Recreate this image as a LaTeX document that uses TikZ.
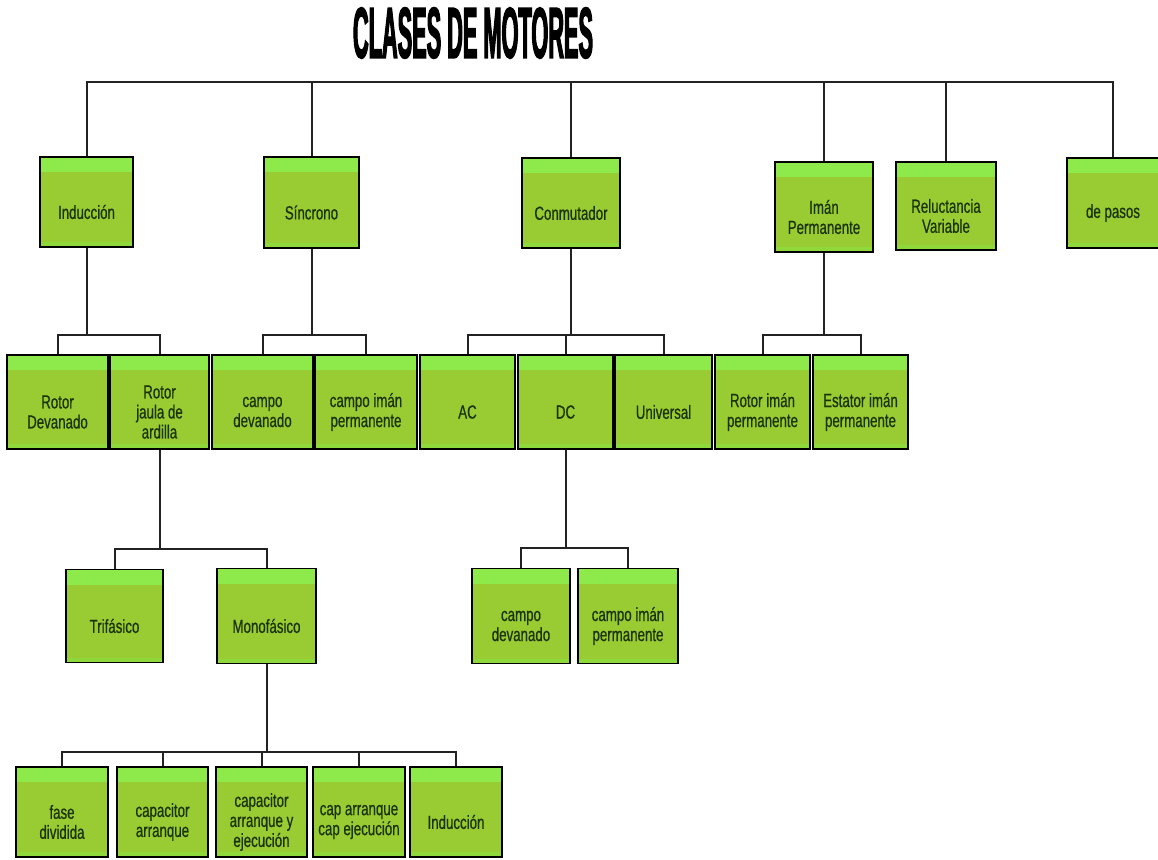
\documentclass[tikz,border=0pt]{standalone}
\usepackage{fontspec}
\setmainfont{Liberation Sans}
\newfontfamily\narrowfont[FakeStretch=0.7,FakeBold=0.6]{Liberation Sans}
\newfontfamily\titlefont[FakeStretch=0.55,FakeBold=2.5]{Liberation Sans Bold}
\definecolor{boxgreen}{HTML}{99CC33}
\definecolor{topgreen}{HTML}{8EEA4A}
\definecolor{botgreen}{HTML}{8FD83C}
\definecolor{txtgreen}{HTML}{1A330B}
\definecolor{linegray}{HTML}{222222}
\tikzset{
  mbox/.style={draw=black, line width=1.6pt, fill=boxgreen, inner sep=0pt, minimum height=91pt,
    path picture={
      \fill[topgreen] (path picture bounding box.north west) rectangle ([yshift=-15pt]path picture bounding box.north east);
      \fill[botgreen] (path picture bounding box.south west) rectangle ([yshift=5pt]path picture bounding box.south east);
    }},
  mtext/.style={align=center, text=txtgreen, inner sep=0pt, font=\narrowfont\fontsize{19}{20}\selectfont},
  conn/.style={draw=linegray, line width=2pt},
}
\newcommand{\motor}[6]{%
  \node[mbox, minimum width=#5pt, minimum height=#6pt] (#1) at (#2,#3) {};
  \node[mtext] (#1t) at ([yshift=-10pt]#1.center) {#4};
}
\begin{document}
\begin{tikzpicture}[x=1pt,y=-1pt]
\useasboundingbox[fill=white] (0,0) rectangle (1158,859);

\node (title) at (473,33) {\resizebox{240pt}{50pt}{\titlefont CLASES DE MOTORES}};

% level 1
\motor{ind}{86.5}{202}{Inducción}{93}{90}
\motor{sin}{311.5}{202.5}{Síncrono}{95}{91}
\motor{con}{571}{203}{Conmutador}{98}{90}
\motor{iman}{824}{207}{Imán\\Permanente}{98}{90}
\motor{rel}{946}{206}{Reluctancia\\Variable}{100}{88}
\motor{pasos}{1113}{203}{de pasos}{92}{90}

% level 2
\motor{rd}{57.5}{402}{Rotor\\Devanado}{101}{94}
\motor{rj}{159.5}{402}{Rotor\\jaula de\\ardilla}{99}{94}
\motor{cd}{262.5}{402}{campo\\devanado}{101}{94}
\motor{ci}{366}{402}{campo imán\\permanente}{102}{94}
\motor{ac}{467.5}{402}{AC}{95}{94}
\motor{dc}{565.5}{402}{DC}{95}{94}
\motor{uni}{663.5}{402}{Universal}{97}{94}
\motor{ri}{762.5}{402}{Rotor imán\\permanente}{95}{94}
\motor{ei}{860.5}{402}{Estator imán\\permanente}{95}{94}

% level 3
\motor{tri}{114.5}{616}{Trifásico}{97}{93}
\motor{mono}{266.5}{616}{Monofásico}{99}{95}
\motor{cdd}{521}{616}{campo\\devanado}{98}{95}
\motor{cid}{628}{616}{campo imán\\permanente}{100}{95}

% level 4
\motor{fd}{62}{812}{fase\\dividida}{92}{90}
\motor{ca}{162.5}{812}{capacitor\\arranque}{91}{90}
\motor{cae}{261.5}{812}{capacitor\\arranque y\\ejecución}{91}{90}
\motor{cc}{359}{812}{cap arranque\\cap ejecución}{92}{90}
\motor{indm}{456}{812}{Inducción}{92}{90}

% connectors: top bar
\coordinate (tb) at (500,82);
\draw[conn] (ind.north) |- (tb) -| (pasos.north);
\foreach \n in {sin,con,iman,rel} \draw[conn] (\n.north) -- (\n.north |- tb);

% level 2 brackets
\coordinate (b1) at (ind.south |- 0,335);
\draw[conn] (ind.south) -- (b1);
\draw[conn] (rd.north) |- (b1) -| (rj.north);
\coordinate (b2) at (sin.south |- 0,335);
\draw[conn] (sin.south) -- (b2);
\draw[conn] (cd.north) |- (b2) -| (ci.north);
\coordinate (b3) at (con.south |- 0,335);
\draw[conn] (con.south) -- (b3);
\draw[conn] (ac.north) |- (b3) -| (uni.north);
\draw[conn] (dc.north) -- (dc.north |- b3);
\coordinate (b4) at (iman.south |- 0,335);
\draw[conn] (iman.south) -- (b4);
\draw[conn] (ri.north) |- (b4) -| (ei.north);

% level 3 brackets
\coordinate (b5) at (rj.south |- 0,549);
\draw[conn] (rj.south) -- (b5);
\draw[conn] (tri.north) |- (b5) -| (mono.north);
\coordinate (b6) at (dc.south |- 0,548);
\draw[conn] (dc.south) -- (b6);
\draw[conn] (cdd.north) |- (b6) -| (cid.north);

% level 4 bracket
\coordinate (b7) at (mono.south |- 0,752);
\draw[conn] (mono.south) -- (b7);
\draw[conn] (fd.north) |- (b7) -| (indm.north);
\foreach \n in {ca,cae,cc} \draw[conn] (\n.north) -- (\n.north |- b7);
\end{tikzpicture}
\end{document}
